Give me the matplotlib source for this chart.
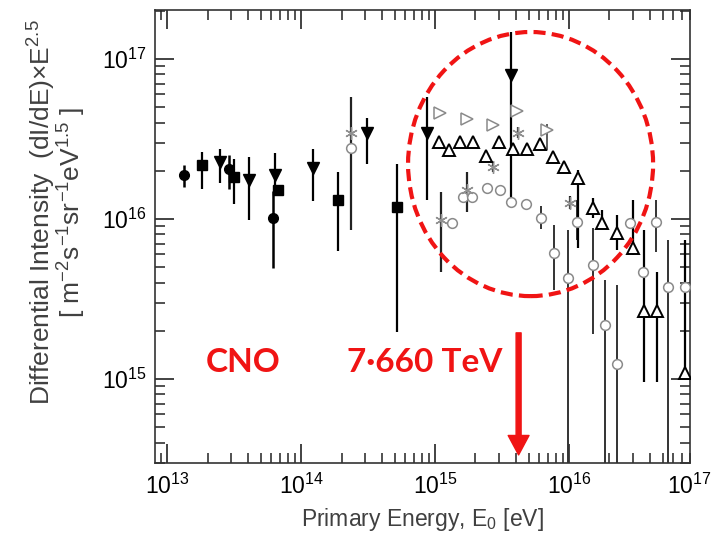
import numpy as np
import matplotlib
matplotlib.use('Agg')
import matplotlib.pyplot as plt
from matplotlib.patches import Ellipse
from matplotlib.ticker import LogLocator, NullFormatter

plt.rcParams['font.family'] = ['Liberation Sans', 'DejaVu Sans']
plt.rcParams['mathtext.fontset'] = 'custom'
plt.rcParams['mathtext.rm'] = 'Liberation Sans'
plt.rcParams['mathtext.it'] = 'Liberation Sans:italic'
plt.rcParams['mathtext.bf'] = 'Liberation Sans:bold'

# filled circles
circ_E = [1.34e13, 2.9e13, 6.2e13]
circ_I = [1.88e16, 2.05e16, 1.01e16]
circ_lo = [1.58e16, 1.54e16, 4.9e15]
circ_hi = [2.18e16, 2.51e16, 1.5e16]

# filled squares
sq_E = [1.82e13, 3.16e13, 6.7e13, 1.89e14, 5.2e14]
sq_I = [2.18e16, 1.83e16, 1.52e16, 1.31e16, 1.19e16]
sq_lo = [1.54e16, 1.24e16, 1.4e16, 6.3e15, 1.97e15]
sq_hi = [2.63e16, 2.37e16, 1.6e16, 1.97e16, 2.2e16]

# filled down triangles
dtri_E = [2.49e13, 4.09e13, 6.4e13, 1.23e14, 3.11e14, 8.7e14, 3.69e15]
dtri_I = [2.27e16, 1.75e16, 1.88e16, 2.08e16, 3.45e16, 3.45e16, 7.94e16]
dtri_lo = [1.68e16, 9.9e15, 1.63e16, 1.3e16, 2.2e16, 1.31e16, 1.28e16]
dtri_hi = [2.74e16, 2.44e16, 2.58e16, 2.74e16, 4.28e16, 5.8e16, 1.48e17]

# asterisks
ast_E = [2.36e14, 1.11e15, 1.73e15, 2.71e15, 4.16e15, 1.02e16]
ast_I = [3.45e16, 9.9e15, 1.52e16, 2.11e16, 3.45e16, 1.26e16]
ast_lo = [8.5e15, 4.67e15, 1.1e16, 1.95e16, 3.2e16, 1.15e16]
ast_hi = [5.8e16, 1.47e16, 1.97e16, 2.3e16, 3.75e16, 1.4e16]

# open circles
ocirc_E = [2.36e14, 1.34e15, 1.62e15, 1.89e15, 2.44e15, 3.06e15, 3.69e15,
           4.78e15, 6.18e15, 7.73e15, 9.84e15, 1.15e16, 1.51e16, 1.86e16,
           2.28e16, 2.85e16, 3.56e16, 4.46e16, 5.48e16, 7.35e16]
ocirc_I = [2.78e16, 9.4e15, 1.37e16, 1.37e16, 1.56e16, 1.52e16, 1.28e16,
           1.24e16, 1.01e16, 6.13e15, 4.28e15, 9.6e15, 5.16e15, 2.18e15,
           1.24e15, 9.4e15, 4.67e15, 9.6e15, 3.76e15, 3.76e15]
ocirc_lo = [2.78e16, 9.4e15, 1.37e16, 1.37e16, 1.56e16, 1.52e16, 1.28e16,
            1.24e16, 8.66e15, 3.6e15, 1e14, 7.4e15, 1.9e15, 1e14,
            1e14, 9.4e15, 4.67e15, 6.2e15, 1e14, 3.76e15]
ocirc_hi = [2.78e16, 9.4e15, 1.37e16, 1.37e16, 1.56e16, 1.52e16, 1.28e16,
            1.24e16, 1.2e16, 9.2e15, 8.5e15, 1.31e16, 8.8e15, 4.16e15,
            3.87e15, 9.4e15, 4.67e15, 1.31e16, 7.4e15, 3.76e15]

# open right triangles
rtri_E = [1.09e15, 1.73e15, 2.71e15, 4.09e15, 6.85e15]
rtri_I = [4.6e16, 4.22e16, 3.87e16, 4.73e16, 3.6e16]
rtri_lo = [4.6e16, 4.22e16, 3.87e16, 4.73e16, 2.7e16]
rtri_hi = [4.6e16, 4.22e16, 3.87e16, 4.73e16, 3.93e16]

# open up triangles
utri_E = [1.07e15, 1.27e15, 1.54e15, 1.92e15, 2.4e15, 3.0e15, 3.82e15,
          4.86e15, 6.08e15, 7.6e15, 9.2e15, 1.17e16, 1.51e16, 1.76e16,
          2.28e16, 3.0e16, 3.63e16, 4.54e16, 7.35e16]
utri_I = [3.03e16, 2.7e16, 3.03e16, 3.03e16, 2.48e16, 3.03e16, 2.74e16,
          2.74e16, 2.94e16, 2.44e16, 2.11e16, 1.8e16, 1.17e16, 9.4e15,
          8.2e15, 6.6e15, 2.66e15, 2.66e15, 1.09e15]
utri_lo = [3.03e16, 2.7e16, 3.03e16, 3.03e16, 2.48e16, 3.03e16, 2.74e16,
           2.74e16, 2.94e16, 2.44e16, 2.11e16, 6.6e15, 1.01e16, 8.8e15,
           6.4e15, 5.96e15, 9.6e14, 9.6e14, 9.8e14]
utri_hi = [3.03e16, 2.7e16, 3.03e16, 3.03e16, 2.48e16, 3.03e16, 2.74e16,
           2.74e16, 2.94e16, 2.44e16, 2.11e16, 2.02e16, 1.35e16, 1.14e16,
           1.06e16, 1.31e16, 8.5e15, 4.67e15, 7.4e15]

RED = '#f01414'

fig = plt.figure(figsize=(7.16, 5.48), dpi=100)
ax = fig.add_axes([0.2165, 0.155, 0.7472, 0.8267])
ax.set_xscale('log')
ax.set_yscale('log')


def draw(E, I, lo, hi, ecolor, elw, **kw):
    E = np.array(E); I = np.array(I)
    err = [I - np.array(lo), np.array(hi) - I]
    ax.errorbar(E, I, yerr=err, fmt='none', ecolor=ecolor, elinewidth=elw,
                capsize=0, zorder=2)
    ax.plot(E, I, ls='none', zorder=3, **kw)


draw(ocirc_E, ocirc_I, ocirc_lo, ocirc_hi, '#333333', 1.4,
     marker='o', ms=7, mfc='white', mec='#8a8a8a', mew=1.1)
draw(rtri_E, rtri_I, rtri_lo, rtri_hi, '#444444', 1.2,
     marker='>', ms=8.5, mfc='white', mec='#8a8a8a', mew=1.1)
draw(ast_E, ast_I, ast_lo, ast_hi, '#222222', 1.6,
     marker=(6, 2, 0), ms=9, mec='#909090', mew=1.0)
draw(utri_E, utri_I, utri_lo, utri_hi, 'black', 1.6,
     marker='^', ms=8.5, mfc='white', mec='black', mew=1.4)
draw(circ_E, circ_I, circ_lo, circ_hi, 'black', 1.8,
     marker='o', ms=7, mfc='black', mec='black')
draw(sq_E, sq_I, sq_lo, sq_hi, 'black', 1.6,
     marker='s', ms=7.5, mfc='black', mec='black')
draw(dtri_E, dtri_I, dtri_lo, dtri_hi, 'black', 1.6,
     marker='v', ms=8.5, mfc='black', mec='black')

ax.set_xlim(8.1e12, 8.0e16)
ax.set_ylim(2.98e14, 2.02e17)

for axis in (ax.xaxis, ax.yaxis):
    axis.set_major_locator(LogLocator(base=10, numticks=20))
    axis.set_minor_locator(LogLocator(base=10, subs=np.arange(2, 10), numticks=20))
    axis.set_minor_formatter(NullFormatter())

ax.tick_params(which='both', direction='in', top=True, right=True,
               colors='#222222', labelcolor='black', labelsize=16.5)
ax.tick_params(which='major', length=14, width=1.2)
ax.tick_params(which='minor', length=7, width=1.1)
ax.tick_params(axis='x', pad=8)
ax.tick_params(axis='y', pad=6)
for s in ax.spines.values():
    s.set_linewidth(1.2)
    s.set_color('#333333')

# the last decade label sits just beyond the frame, pulled in to stay on the canvas
ax.annotate(r'$\mathdefault{10^{17}}$', xy=(1e17, 0),
            xycoords=('data', 'axes fraction'), xytext=(-10, -8),
            textcoords='offset points', ha='center', va='top', fontsize=16.5,
            annotation_clip=False)

ax.set_xlabel('Primary Energy, E$_0$ [eV]', fontsize=16.5, color='#404040',
              labelpad=5)
fig.text(57 / 716, 1 - 212 / 548,
         'Differential Intensity  (dI/dE)$\\times$E$^{2.5}$\n'
         '[ m$^{-2}$s$^{-1}$sr$^{-1}$eV$^{1.5}$ ]',
         rotation=90, ha='center', va='center', multialignment='center',
         fontsize=19, color='#404040', linespacing=0.92)

# highlighted region and annotations
ax.add_patch(Ellipse((0.702, 0.660), 0.458, 0.583, transform=ax.transAxes,
                     fill=False, ec=RED, lw=3, ls=(0, (2.9, 1.5)), zorder=5))
ax.text(3.69e13, 1.26e15, 'CNO', color=RED, fontsize=24, fontweight='bold',
        family=['Lato', 'DejaVu Sans'], ha='center', va='center')
ax.text(8.4e14, 1.26e15, '7\u00b7660 TeV', color=RED, fontsize=24,
        fontweight='bold', family=['Lato', 'DejaVu Sans'],
        ha='center', va='center')
ax.annotate('', xy=(4.2e15, 3.35e14), xytext=(4.2e15, 1.94e15),
            arrowprops=dict(width=3.6, headwidth=15, headlength=14,
                            color=RED, shrink=0))

fig.savefig('out.png', dpi=100)
